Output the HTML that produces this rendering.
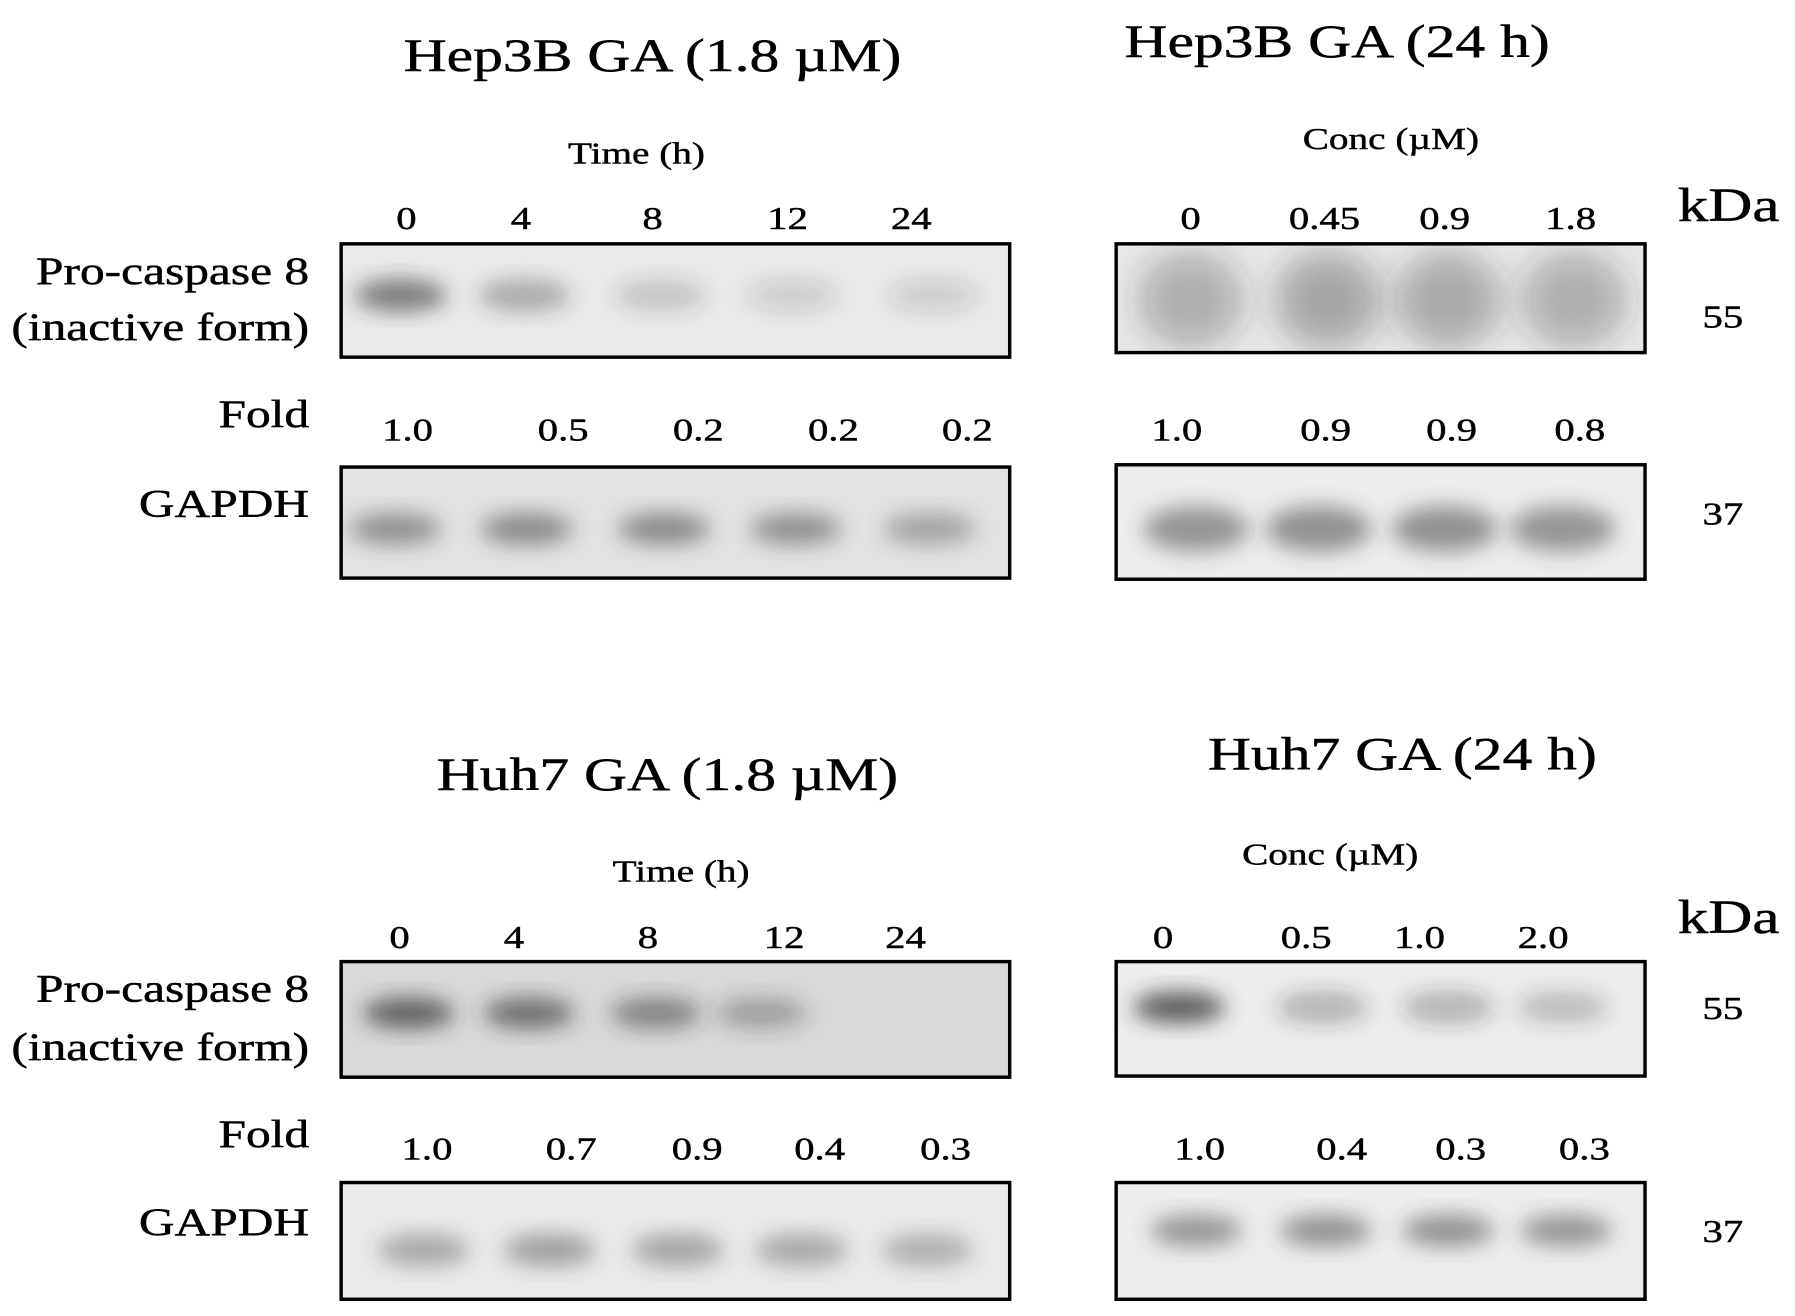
<!DOCTYPE html>
<html><head><meta charset="utf-8"><style>
html,body{margin:0;padding:0;background:#fff;}
svg{display:block;font-family:"Liberation Serif",serif;}
text{stroke:#000;stroke-width:0.4;}
</style></head><body>
<svg id="fig" width="1795" height="1316" viewBox="0 0 1568 1149.6" preserveAspectRatio="none" xmlns="http://www.w3.org/2000/svg">
<defs>
<filter id="blur" x="-50%" y="-50%" width="200%" height="200%"><feGaussianBlur stdDeviation="9"/></filter>
<filter id="blur2" x="-50%" y="-50%" width="200%" height="200%"><feGaussianBlur stdDeviation="14"/></filter>
</defs>
<g id="static" fill="#000">
<text x="570" y="62" font-size="41" text-anchor="middle">Hep3B GA (1.8 µM)</text>
<text x="1168" y="50" font-size="41" text-anchor="middle">Hep3B GA (24 h)</text>
<text x="583" y="690" font-size="41" text-anchor="middle">Huh7 GA (1.8 µM)</text>
<text x="1225" y="672" font-size="41" text-anchor="middle">Huh7 GA (24 h)</text>
<text x="556" y="143" font-size="27" text-anchor="middle">Time (h)</text>
<text x="1215" y="130" font-size="27" text-anchor="middle">Conc (µM)</text>
<text x="595" y="770" font-size="27" text-anchor="middle">Time (h)</text>
<text x="1162" y="755" font-size="27" text-anchor="middle">Conc (µM)</text>
<text x="1510" y="193" font-size="42" text-anchor="middle">kDa</text>
<text x="1510" y="815" font-size="42" text-anchor="middle">kDa</text>
<text x="1505" y="286" font-size="28" text-anchor="middle">55</text>
<text x="1505" y="458" font-size="28" text-anchor="middle">37</text>
<text x="1505" y="890" font-size="28" text-anchor="middle">55</text>
<text x="1505" y="1085" font-size="28" text-anchor="middle">37</text>
<g font-size="34" text-anchor="end">
<text x="270" y="248">Pro-caspase 8</text>
<text x="270" y="297">(inactive form)</text>
<text x="270" y="373">Fold</text>
<text x="270" y="451">GAPDH</text>
<text x="270" y="875">Pro-caspase 8</text>
<text x="270" y="926">(inactive form)</text>
<text x="270" y="1002">Fold</text>
<text x="270" y="1079">GAPDH</text>
</g>
</g>
<g id="dyn"></g>
</svg>
<script>
// Data arrays
const laneLabelsTL = ['0','4','8','12','24'];
const laneLabelsTR = ['0','0.45','0.9','1.8'];
const laneLabelsBL = ['0','4','8','12','24'];
const laneLabelsBR = ['0','0.5','1.0','2.0'];
const foldTL = ['1.0','0.5','0.2','0.2','0.2'];
const foldTR = ['1.0','0.9','0.9','0.8'];
const foldBL = ['1.0','0.7','0.9','0.4','0.3'];
const foldBR = ['1.0','0.4','0.3','0.3'];
const procasTL = [0.6,0.35,0.2,0.15,0.15];
const procasTR = [0.3,0.36,0.34,0.3];
const procasBL = [0.7,0.62,0.5,0.35,0.0];
const procasBR = [0.75,0.3,0.3,0.25];
const gapdhTL = [0.5,0.55,0.55,0.5,0.4];
const gapdhTR = [0.5,0.52,0.52,0.5];
const gapdhBL = [0.4,0.45,0.42,0.4,0.35];
const gapdhBR = [0.5,0.52,0.52,0.5];

const NS='http://www.w3.org/2000/svg';
const g=document.getElementById('dyn');
function mk(tag,attrs,parent){const e=document.createElementNS(NS,tag);for(const k in attrs)e.setAttribute(k,attrs[k]);(parent||g).appendChild(e);return e;}

const panels=[
 {name:'hep3b-time',x:298,w:584,lanes:[355,455,570,688,796],foldX:[356,492,610,728,845],bandX:[350,458,577,692,815],labels:laneLabelsTL,folds:foldTL,pro:procasTL,gap:gapdhTL,labY:200,foldY:385,proY:213,proH:99,gapY:408,gapH:97,proBandY:258,gapBandY:462,proBg:'#e9e9e9',gapBg:'#e2e2e2',wide:false,gapBX:[345,460,580,695,812]},
 {name:'hep3b-conc',x:975,w:462,lanes:[1040,1157,1262,1372],foldX:[1028,1158,1268,1380],bandX:[1040,1160,1265,1375],labels:laneLabelsTR,folds:foldTR,pro:procasTR,gap:gapdhTR,labY:200,foldY:385,proY:213,proH:95,gapY:406,gapH:100,proBandY:262,gapBandY:462,proBg:'#e8e8e8',gapBg:'#ececec',wide:true,gapBX:[1045,1152,1262,1365]},
 {name:'huh7-time',x:298,w:584,lanes:[349,449,566,685,791],foldX:[373,499,609,716,826],bandX:[357,462,573,665,790],labels:laneLabelsBL,folds:foldBL,pro:procasBL,gap:gapdhBL,labY:828,foldY:1013,proY:840,proH:101,gapY:1033,gapH:102,proBandY:885,gapBandY:1092,proBg:'#d9d9d9',gapBg:'#e9e9e9',wide:false,gapBX:[370,480,592,700,810]},
 {name:'huh7-conc',x:975,w:462,lanes:[1016,1141,1240,1348],foldX:[1048,1172,1276,1384],bandX:[1030,1155,1265,1365],labels:laneLabelsBR,folds:foldBR,pro:procasBR,gap:gapdhBR,labY:828,foldY:1013,proY:840,proH:100,gapY:1033,gapH:102,proBandY:880,gapBandY:1075,proBg:'#ececec',gapBg:'#ececec',wide:false,gapBX:[1045,1158,1265,1368]}
];

panels.forEach(p=>{
  p.labels.forEach((t,i)=>{
    const e=mk('text',{x:p.lanes[i],y:p.labY,'font-size':28,'text-anchor':'middle'});
    e.textContent=t;
    
    
  });
  p.folds.forEach((t,i)=>{
    const e=mk('text',{x:p.foldX[i],y:p.foldY,'font-size':28,'text-anchor':'middle'});
    e.textContent=t;
    
    
  });
  const cp='cp-'+p.name;
  const c1=mk('clipPath',{id:cp+'a'});mk('rect',{x:p.x,y:p.proY,width:p.w,height:p.proH},c1);
  const c2=mk('clipPath',{id:cp+'b'});mk('rect',{x:p.x,y:p.gapY,width:p.w,height:p.gapH},c2);
  const bg1=mk('rect',{x:p.x,y:p.proY,width:p.w,height:p.proH,fill:p.proBg});
  
  
  const gb1=mk('g',{'clip-path':'url(#'+cp+'a)'});
  p.pro.forEach((v,i)=>{
    const e=mk('ellipse',{cx:p.bandX[i],cy:p.proBandY,rx:p.wide?46:40,ry:p.wide?42:14,fill:'#333','fill-opacity':v,filter:p.wide?'url(#blur2)':'url(#blur)'},gb1);
    
    
  });
  const bd1=mk('rect',{x:p.x,y:p.proY,width:p.w,height:p.proH,fill:'none',stroke:'#000','stroke-width':3});
  
  
  const bg2=mk('rect',{x:p.x,y:p.gapY,width:p.w,height:p.gapH,fill:p.gapBg});
  
  
  const gb2=mk('g',{'clip-path':'url(#'+cp+'b)'});
  p.gap.forEach((v,i)=>{
    const e=mk('ellipse',{cx:p.gapBX[i],cy:p.gapBandY,rx:p.wide?46:40,ry:p.wide?20:14,fill:'#444','fill-opacity':v,filter:'url(#blur)'},gb2);
    
    
  });
  const bd2=mk('rect',{x:p.x,y:p.gapY,width:p.w,height:p.gapH,fill:'none',stroke:'#000','stroke-width':3});
  
  
});
// horizontal stretch of all text to match reference glyph widths
document.querySelectorAll('#fig text').forEach(t=>{
  const x=parseFloat(t.getAttribute('x'));
  t.setAttribute('transform','translate('+x+',0) scale(1.27,1) translate('+(-x)+',0)');
});
</script>
</body></html>
